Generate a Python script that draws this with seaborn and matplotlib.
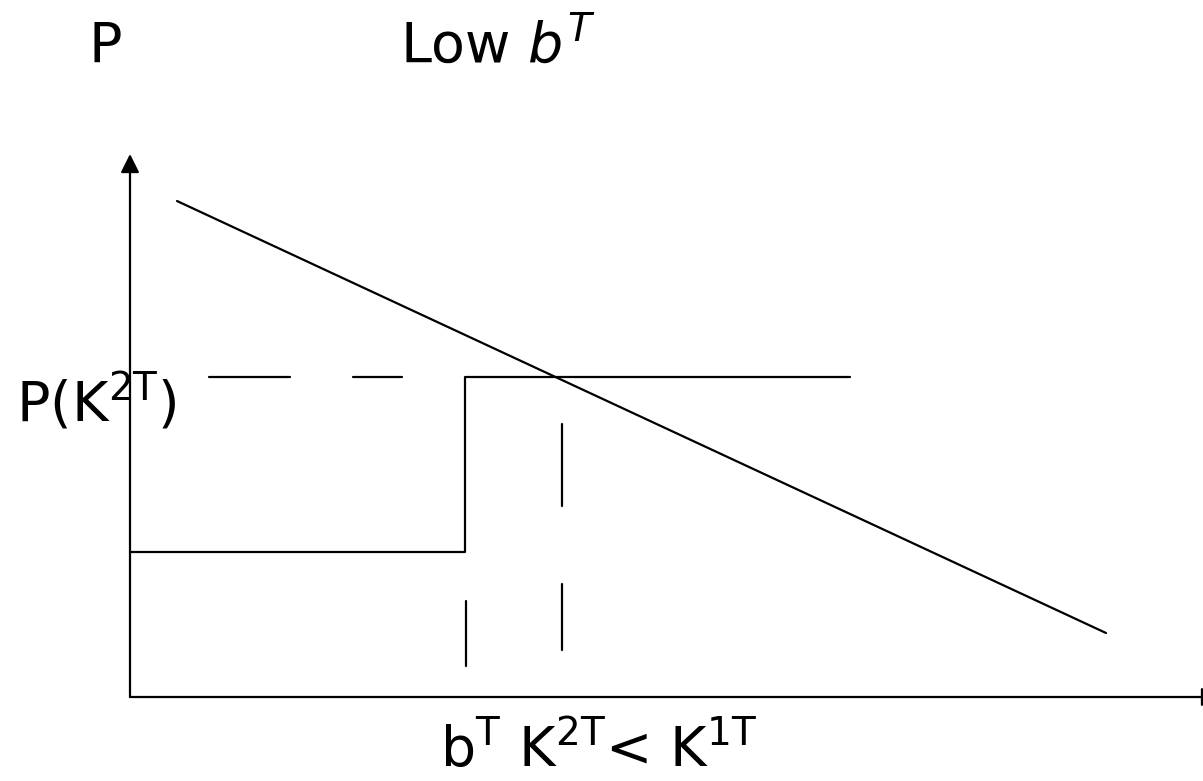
import matplotlib
matplotlib.use("Agg")
import matplotlib.pyplot as plt
import numpy as np
import pandas as pd
import seaborn as sns

# schematic values, origin at the axes corner
demand_x = [47, 976]
demand_y = [496, 64]

step_x = [0, 335, 335, 720]
step_y = [145, 145, 320, 320]

# dashed guide lines: (x0, x1, y) and (x, y0, y1)
h_dashes = [(79, 160, 320), (223, 272, 320)]
v_dashes = [(336, 31, 96), (432, 47, 113), (432, 191, 273)]

y_axis_top = 543
x_axis_end = 1090


def main():
    sns.set_style("white")
    plt.rcParams['font.family'] = ['DejaVu Sans']
    plt.rcParams['mathtext.fontset'] = 'dejavusans'
    plt.rcParams['text.color'] = 'black'

    fig = plt.figure(figsize=(12.03, 7.81), dpi=100)
    ax = fig.add_axes([0, 0, 1, 1])
    ax.set_xlim(-130, 1073)
    ax.set_ylim(-84, 697)
    ax.axis('off')

    lw = 1.6
    sns.lineplot(x=demand_x, y=demand_y, ax=ax, color='black', lw=lw)
    step = pd.DataFrame({'x': step_x, 'y': step_y})
    sns.lineplot(data=step, x='x', y='y', sort=False, estimator=None, ax=ax, color='black', lw=lw)

    for x0, x1, y in h_dashes:
        ax.plot([x0, x1], [y, y], color='black', lw=lw)
    for x, y0, y1 in v_dashes:
        ax.plot([x, x], [y0, y1], color='black', lw=lw)

    # axes with arrows
    arrow = dict(arrowstyle='-|>', lw=lw, color='black', mutation_scale=28, shrinkA=0, shrinkB=0)
    ax.annotate('', xy=(0, y_axis_top), xytext=(0, 0), arrowprops=arrow, annotation_clip=False)
    ax.annotate('', xy=(x_axis_end, 0), xytext=(0, 0), arrowprops=arrow, annotation_clip=False)

    fs = 40
    W, H = 1203, 781
    def txt(px, py, s):
        fig.text(px / W, 1 - py / H, s, fontsize=fs, va='baseline', ha='left',
                 color='black', zorder=0)

    txt(88, 62, 'P')
    txt(400, 62, r'Low $b^T$')
    txt(16, 422, r'P(K$^{\mathrm{2T}}$)')
    txt(440, 767, r'b$^{\mathrm{T}}$ K$^{\mathrm{2T}}$< K$^{\mathrm{1T}}$')

    fig.savefig('out.png', dpi=100, facecolor='white')


if __name__ == '__main__':
    main()
